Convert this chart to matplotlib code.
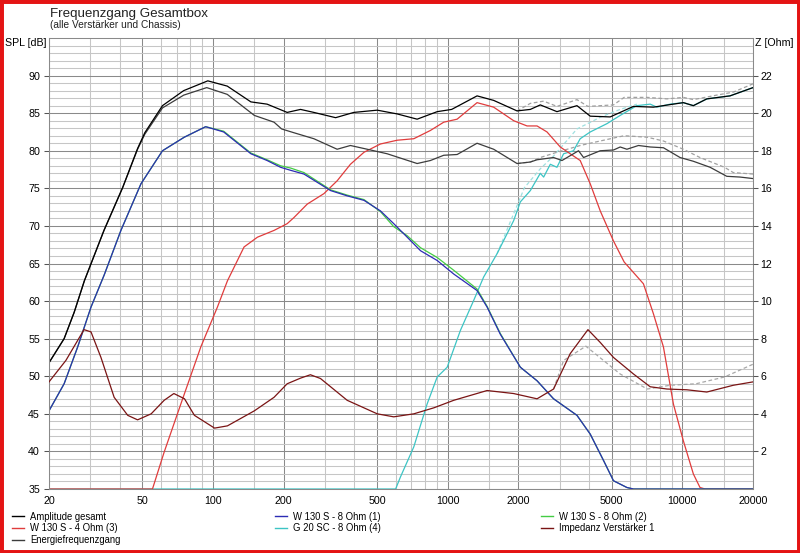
import matplotlib
matplotlib.use('Agg')
import matplotlib.pyplot as plt
from matplotlib.patches import Rectangle
from matplotlib import font_manager

# ---------------- data ----------------
amp_f = [20, 23.2, 25.6, 28.3, 34.3, 41.2, 47.7, 51.2, 60.9, 75, 95, 115, 145, 170, 207, 236, 269, 333, 398,
         501, 609, 741, 902, 1040, 1334, 1570, 1975, 2250, 2481, 2922, 3555, 4050, 4925, 6190, 7530, 8700,
         10100, 11140, 12710, 15960, 20000]
amp_db = [51.8, 55.0, 58.5, 62.7, 69.4, 75.1, 80.3, 82.4, 86.0, 88.0, 89.3, 88.6, 86.5, 86.2, 85.1, 85.5, 85.1,
          84.4, 85.1, 85.4, 84.9, 84.2, 85.2, 85.5, 87.3, 86.7, 85.3, 85.5, 86.1, 85.2, 86.0, 84.6, 84.5, 85.9,
          85.8, 86.1, 86.4, 86.0, 86.9, 87.3, 88.4]

en_f = [20, 23.2, 25.6, 28.3, 34.3, 41.2, 47.7, 51.2, 60.9, 75, 94, 115, 150, 182, 196, 221, 269, 338, 385, 454,
        552, 741, 844, 962, 1097, 1334, 1570, 1975, 2250, 2403, 2826, 3069, 3611, 3793, 4467, 5087, 5433, 5803,
        6502, 7294, 8305, 9776, 11140, 13130, 15460, 17610, 20000]
en_db = [51.8, 55.0, 58.5, 62.7, 69.4, 75.1, 80.2, 82.2, 85.7, 87.4, 88.4, 87.5, 84.7, 83.8, 82.9, 82.4, 81.6,
         80.2, 80.7, 80.2, 79.6, 78.3, 78.7, 79.4, 79.5, 81.0, 80.2, 78.3, 78.5, 78.8, 79.1, 78.7, 80.0, 79.1,
         80.0, 80.1, 80.5, 80.2, 80.7, 80.5, 80.4, 79.1, 78.6, 77.8, 76.6, 76.5, 76.3]

w1_f = [20, 23.2, 26.5, 30.2, 34.4, 40.5, 49.3, 60.9, 75.4, 93, 111, 145, 170, 194, 214, 244, 317, 373, 440, 517,
        589, 672, 766, 902, 1061, 1334, 1472, 1675, 2040, 2403, 2826, 3555, 4050, 4613, 5087, 5803, 6190, 20000]
w1_db = [45.4, 49.0, 53.9, 59.2, 63.5, 69.4, 75.6, 80.0, 81.8, 83.2, 82.5, 79.6, 78.7, 77.8, 77.4, 76.9, 74.7,
         74.0, 73.4, 72.0, 70.3, 68.5, 66.7, 65.4, 63.6, 61.4, 59.2, 55.6, 51.2, 49.4, 47.0, 44.8, 42.3, 38.8,
         36.1, 35.2, 35.0, 35.0]
w2_db = [45.4, 49.0, 53.9, 59.2, 63.5, 69.4, 75.6, 80.0, 81.8, 83.2, 82.6, 79.7, 78.8, 78.0, 77.7, 77.1, 74.8,
         74.1, 73.5, 71.9, 69.9, 68.7, 67.1, 65.8, 64.1, 61.6, 59.3, 55.7, 51.2, 49.4, 47.0, 44.8, 42.3, 38.8,
         36.1, 35.2, 35.0, 35.0]

w3_f = [20, 55.2, 61.9, 72.9, 88.7, 104.4, 115.2, 135.6, 154.6, 181.9, 207, 221, 252, 297, 338, 385, 440, 517,
        609, 717, 844, 962, 1097, 1334, 1570, 1910, 2178, 2403, 2650, 3018, 3326, 3670, 4050, 4467, 5087, 5650,
        6826, 7530, 8305, 9160, 10100, 11140, 11890, 12500, 20000]
w3_db = [35.0, 35.0, 39.9, 46.3, 53.9, 59.2, 62.7, 67.2, 68.5, 69.4, 70.3, 71.1, 72.9, 74.3, 76.0, 78.2, 79.8,
         80.9, 81.4, 81.6, 82.7, 83.8, 84.2, 86.4, 85.8, 84.0, 83.3, 83.3, 82.5, 80.5, 79.6, 78.7, 75.6, 72.0,
         68.0, 65.2, 62.3, 58.3, 53.9, 46.3, 41.4, 37.0, 35.2, 35.0, 35.0]

g20_f = [20, 600, 629, 717, 817, 902, 995, 1133, 1291, 1423, 1623, 1910, 2040, 2250, 2481, 2564, 2737, 2922,
         3118, 3437, 3670, 4050, 4768, 5433, 6400, 7294, 7785, 8870, 10100, 11140, 12710, 15960, 20000]
g20_db = [35.0, 35.0, 36.6, 40.6, 46.3, 49.9, 51.2, 56.1, 60.1, 63.2, 66.3, 70.7, 73.2, 74.7, 77.0, 76.5, 78.2,
          77.8, 79.6, 80.0, 81.6, 82.5, 83.6, 84.7, 86.0, 86.2, 85.8, 86.2, 86.4, 86.0, 86.9, 87.3, 88.4]

imp_f = [20, 23.6, 28.2, 30.2, 33.3, 37.9, 43.3, 47.7, 54.5, 61.9, 68.1, 75.6, 83.3, 101.5, 115.2, 150, 182,
         207, 236, 260, 287, 373, 501, 589, 717, 873, 1061, 1472, 1910, 2403, 2826, 3326, 3960, 4467, 5087, 6190,
         7294, 8600, 10450, 12710, 16480, 20000]
imp_ohm = [5.7, 6.84, 8.48, 8.36, 7.0, 4.88, 3.92, 3.68, 4.0, 4.72, 5.08, 4.8, 3.92, 3.24, 3.36, 4.16, 4.88, 5.6,
           5.9, 6.08, 5.88, 4.72, 4.0, 3.84, 4.0, 4.32, 4.72, 5.24, 5.08, 4.8, 5.32, 7.2, 8.48, 7.8, 7.0, 6.12,
           5.44, 5.32, 5.28, 5.16, 5.52, 5.7]

# previous measurement (dashed, not in legend)
amp_old_f = [1975, 2250, 2564, 2922, 3555, 3960, 5087, 5650, 7090, 8600, 10100, 11140, 14000, 16480, 20000]
amp_old_db = [85.3, 86.3, 86.6, 85.9, 86.8, 85.9, 86.1, 87.1, 87.1, 86.9, 87.1, 86.8, 87.4, 87.8, 88.9]
en_old_f = [1975, 2250, 2481, 2922, 3670, 4467, 5650, 7090, 8305, 10100, 11890, 15120, 16480, 20000]
en_old_db = [78.3, 78.5, 79.1, 79.8, 80.7, 81.3, 82.0, 81.8, 81.3, 80.2, 79.1, 77.8, 77.1, 76.9]
g20_old_f = [1623, 2125, 2481, 2826, 3555, 4500, 5433, 6400]
g20_old_db = [66.3, 75.1, 77.6, 79.3, 82.9, 84.5, 85.5, 86.2]
imp_old_f = [2826, 3118, 3880, 4613, 5433, 7090, 8870, 11430, 15120, 20000]
imp_old_ohm = [5.32, 6.84, 7.6, 6.84, 6.12, 5.32, 5.52, 5.6, 5.96, 6.64]

x_major = [20, 50, 100, 200, 500, 1000, 2000, 5000, 10000, 20000]
x_minor = [30, 40, 60, 70, 80, 90, 150, 300, 400, 600, 700, 800, 900, 1500, 3000, 4000, 6000, 7000, 8000,
           9000, 15000]
y_major = list(range(35, 91, 5))
y_minor = [v for v in range(36, 95) if v % 5]
z_major = list(range(2, 23, 2))

# ---------------- style ----------------
names = {f.name for f in font_manager.fontManager.ttflist}
narrow = 'Liberation Sans Narrow' if 'Liberation Sans Narrow' in names else 'Liberation Sans'
plt.rcParams['font.family'] = [narrow, 'DejaVu Sans']
sc = 1.0 if narrow.endswith('Narrow') else 0.85

fig = plt.figure(figsize=(8.0, 5.53), dpi=100)
fig.patch.set_facecolor('white')
ax = fig.add_axes([49 / 800, (553 - 489) / 553, (753 - 49) / 800, (489 - 38) / 553])
ax.set_xscale('log')
ax.set_xlim(20, 20000)
ax.set_ylim(35, 95)

light = '#c6c6c6'
dark = '#8a8a8a'
tick_fs = 9 * sc
ax.set_xticks(x_major, labels=[str(v) for v in x_major])
ax.set_xticks(x_minor, minor=True)
ax.set_yticks(y_major)
ax.set_yticks(y_minor, minor=True)
ax.grid(which='minor', color=light, lw=0.75)
ax.grid(which='major', color=dark, lw=0.75)
ax.set_axisbelow(True)
ax.tick_params(axis='x', which='both', length=0, pad=5, labelsize=tick_fs)
ax.tick_params(axis='y', which='major', length=3.5, width=0.75, color='#555555', direction='out', pad=3,
               labelsize=tick_fs)
ax.tick_params(axis='y', which='minor', length=0)
ax.xaxis.set_minor_formatter(plt.NullFormatter())
for s in ax.spines.values():
    s.set_color(dark)
    s.set_linewidth(0.75)

ax2 = ax.twinx()
ax2.set_ylim(0, 24)
ax2.set_yticks(z_major)
ax2.tick_params(axis='y', length=3.5, width=0.75, color='#555555', direction='out', pad=2, labelsize=tick_fs)
for s in ax2.spines.values():
    s.set_visible(False)

lw = 0.9
ax.plot(g20_old_f, g20_old_db, color='#9fe0e0', lw=lw, ls=(0, (3, 2)))
ax.plot(amp_old_f, amp_old_db, color='#a0a0a0', lw=lw, ls=(0, (3, 2)))
ax.plot(en_old_f, en_old_db, color='#a0a0a0', lw=lw, ls=(0, (3, 2)))
ax2.plot(imp_old_f, imp_old_ohm, color='#a8a8a8', lw=lw, ls=(0, (3, 2)))

l_g20, = ax.plot(g20_f, g20_db, color='#3cc4c4', lw=lw, label='G 20 SC - 8 Ohm (4)')
l_w3, = ax.plot(w3_f, w3_db, color='#e03c3c', lw=lw, label='W 130 S - 4 Ohm (3)')
l_w2, = ax.plot(w1_f, w2_db, color='#44cc44', lw=lw, label='W 130 S - 8 Ohm (2)')
l_w1, = ax.plot(w1_f, w1_db, color='#2c2cb4', lw=lw, label='W 130 S - 8 Ohm (1)')
l_en, = ax.plot(en_f, en_db, color='#3c3c3c', lw=lw, label='Energiefrequenzgang')
l_amp, = ax.plot(amp_f, amp_db, color='#000000', lw=lw, label='Amplitude gesamt')
l_imp, = ax2.plot(imp_f, imp_ohm, color='#7a1414', lw=lw, label='Impedanz Verstärker 1')

# ---------------- texts ----------------
fig.text(50 / 800, 1 - 16.5 / 553, 'Frequenzgang Gesamtbox', fontsize=9.6,
         family=['Liberation Sans', 'DejaVu Sans'], va='baseline', color='#222222')
fig.text(50 / 800, 1 - 28.5 / 553, '(alle Verstärker und Chassis)', fontsize=7.3,
         family=['Liberation Sans', 'DejaVu Sans'], va='baseline', color='#222222')
fig.text(5 / 800, 1 - 42.5 / 553, 'SPL [dB]', fontsize=tick_fs, va='center', ha='left')
fig.text(755 / 800, 1 - 42.5 / 553, 'Z [Ohm]', fontsize=tick_fs, va='center', ha='left')

# ---------------- legends ----------------
leg_fs = 8.5 * sc * 0.95
leg_kw = dict(frameon=False, fontsize=leg_fs, handlelength=1.3, handletextpad=0.6, labelspacing=0.2,
              borderpad=0, borderaxespad=0, loc='upper left')
cols = [([l_amp, l_w3, l_en], 12), ([l_w1, l_g20], 275), ([l_w2, l_imp], 541)]
for hs, x0 in cols:
    lg = fig.legend(handles=hs, labels=[h.get_label() for h in hs], bbox_to_anchor=(x0 / 800, 1 - 511.5 / 553),
                    **leg_kw)
    for h in lg.legend_handles:
        h.set_linewidth(1.0)

fig.patches.append(Rectangle((0, 0), 1, 1, transform=fig.transFigure, fill=False, edgecolor='#e41414',
                             linewidth=5, zorder=10))

fig.savefig('out.png', dpi=100)
